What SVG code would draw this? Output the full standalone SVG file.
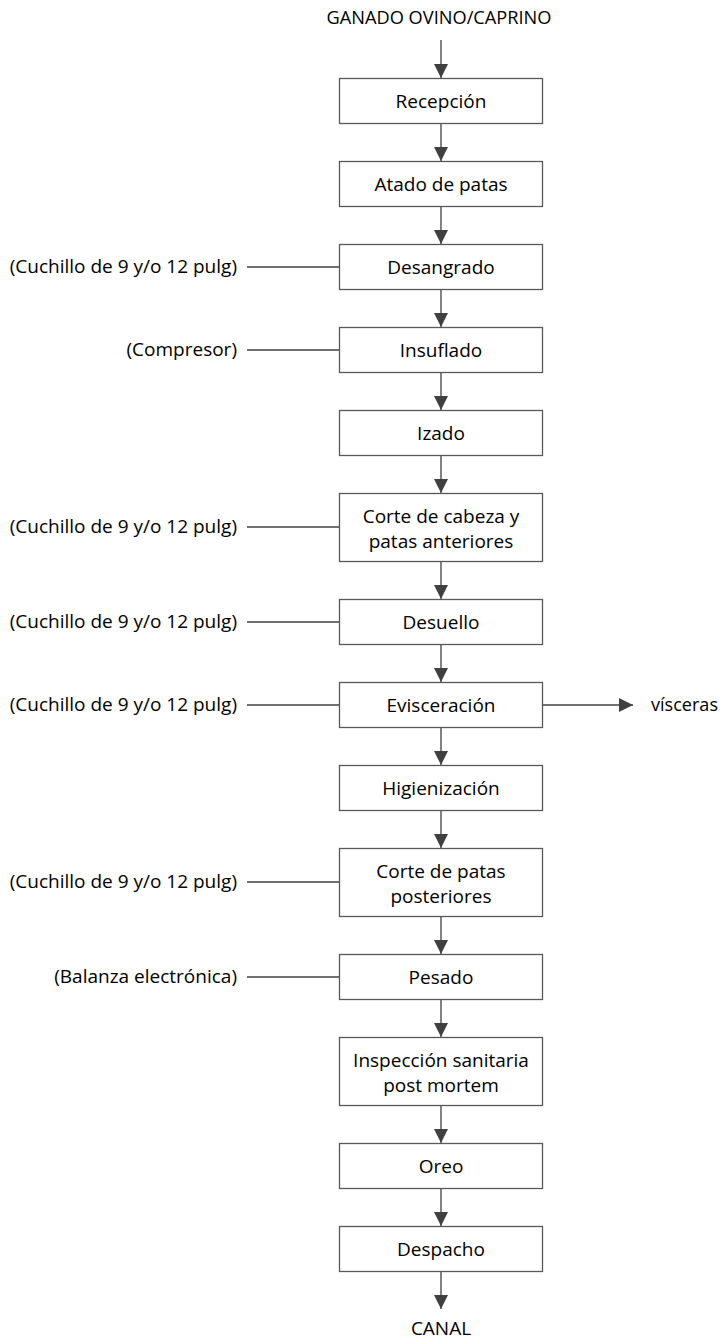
<svg xmlns="http://www.w3.org/2000/svg" width="723" height="1342" viewBox="0 0 723 1342">
<defs>
<style>
.box{fill:#fff;stroke:#595959;stroke-width:1.3}
.t{font-family:"Open Sans","Noto Sans",sans-serif;font-size:19px;fill:#000}
.c{text-anchor:middle}
.r{text-anchor:end}
.ln{stroke:#404040;stroke-width:1.3;fill:none}
.ar{stroke:#404040;stroke-width:1.3;fill:none;marker-end:url(#ah)}
</style>
<marker id="ah" markerUnits="userSpaceOnUse" markerWidth="14" markerHeight="14" refX="14" refY="7" orient="auto" viewBox="0 0 14 14">
<path d="M0,0 L14,7 L0,14 Z" fill="#404040"/>
</marker>
</defs>
<rect width="723" height="1342" fill="#fff"/>
<g id="connectors">
<path class="ar" d="M441,40 V78"/>
<path class="ar" d="M441,123.5 V161"/>
<path class="ar" d="M441,206.5 V244"/>
<path class="ar" d="M441,289.5 V327"/>
<path class="ar" d="M441,372.5 V410"/>
<path class="ar" d="M441,455.5 V493"/>
<path class="ar" d="M441,561.5 V599"/>
<path class="ar" d="M441,644.5 V682"/>
<path class="ar" d="M441,727.5 V765"/>
<path class="ar" d="M441,810.5 V848"/>
<path class="ar" d="M441,916.5 V954"/>
<path class="ar" d="M441,999.5 V1037"/>
<path class="ar" d="M441,1105.5 V1143"/>
<path class="ar" d="M441,1188.5 V1226"/>
<path class="ar" d="M441,1271.5 V1309"/>
<path class="ar" d="M542.5,705 H633"/>
<path class="ln" d="M247,267 H339.5"/>
<path class="ln" d="M247,350 H339.5"/>
<path class="ln" d="M247,527 H339.5"/>
<path class="ln" d="M247,622 H339.5"/>
<path class="ln" d="M247,705 H339.5"/>
<path class="ln" d="M247,882 H339.5"/>
<path class="ln" d="M247,977 H339.5"/>
</g>
<g id="labels">
<text class="t c" x="439" y="24" textLength="225" lengthAdjust="spacingAndGlyphs">GANADO OVINO/CAPRINO</text>
<text class="t c" x="441" y="1335">CANAL</text>
<text class="t" x="651" y="711" textLength="67" lengthAdjust="spacingAndGlyphs">vísceras</text>
<text class="t r" x="237" y="273">(Cuchillo de 9 y/o 12 pulg)</text>
<text class="t r" x="237" y="356">(Compresor)</text>
<text class="t r" x="237" y="533">(Cuchillo de 9 y/o 12 pulg)</text>
<text class="t r" x="237" y="628">(Cuchillo de 9 y/o 12 pulg)</text>
<text class="t r" x="237" y="711">(Cuchillo de 9 y/o 12 pulg)</text>
<text class="t r" x="237" y="888">(Cuchillo de 9 y/o 12 pulg)</text>
<text class="t r" x="237" y="983">(Balanza electrónica)</text>
</g>
<g id="n1"><rect class="box" x="339.5" y="78.5" width="203" height="45"/><text class="t c" x="441" y="108">Recepción</text></g>
<g id="n2"><rect class="box" x="339.5" y="161.5" width="203" height="45"/><text class="t c" x="441" y="191">Atado de patas</text></g>
<g id="n3"><rect class="box" x="339.5" y="244.5" width="203" height="45"/><text class="t c" x="441" y="274">Desangrado</text></g>
<g id="n4"><rect class="box" x="339.5" y="327.5" width="203" height="45"/><text class="t c" x="441" y="357">Insuflado</text></g>
<g id="n5"><rect class="box" x="339.5" y="410.5" width="203" height="45"/><text class="t c" x="441" y="440">Izado</text></g>
<g id="n6"><rect class="box" x="339.5" y="493.5" width="203" height="68"/><text class="t c" x="441" y="523">Corte de cabeza y</text><text class="t c" x="441" y="548">patas anteriores</text></g>
<g id="n7"><rect class="box" x="339.5" y="599.5" width="203" height="45"/><text class="t c" x="441" y="629">Desuello</text></g>
<g id="n8"><rect class="box" x="339.5" y="682.5" width="203" height="45"/><text class="t c" x="441" y="712">Evisceración</text></g>
<g id="n9"><rect class="box" x="339.5" y="765.5" width="203" height="45"/><text class="t c" x="441" y="795">Higienización</text></g>
<g id="n10"><rect class="box" x="339.5" y="848.5" width="203" height="68"/><text class="t c" x="441" y="878">Corte de patas</text><text class="t c" x="441" y="903">posteriores</text></g>
<g id="n11"><rect class="box" x="339.5" y="954.5" width="203" height="45"/><text class="t c" x="441" y="984">Pesado</text></g>
<g id="n12"><rect class="box" x="339.5" y="1037.5" width="203" height="68"/><text class="t c" x="441" y="1067">Inspección sanitaria</text><text class="t c" x="441" y="1092">post mortem</text></g>
<g id="n13"><rect class="box" x="339.5" y="1143.5" width="203" height="45"/><text class="t c" x="441" y="1173">Oreo</text></g>
<g id="n14"><rect class="box" x="339.5" y="1226.5" width="203" height="45"/><text class="t c" x="441" y="1256">Despacho</text></g>
</svg>
